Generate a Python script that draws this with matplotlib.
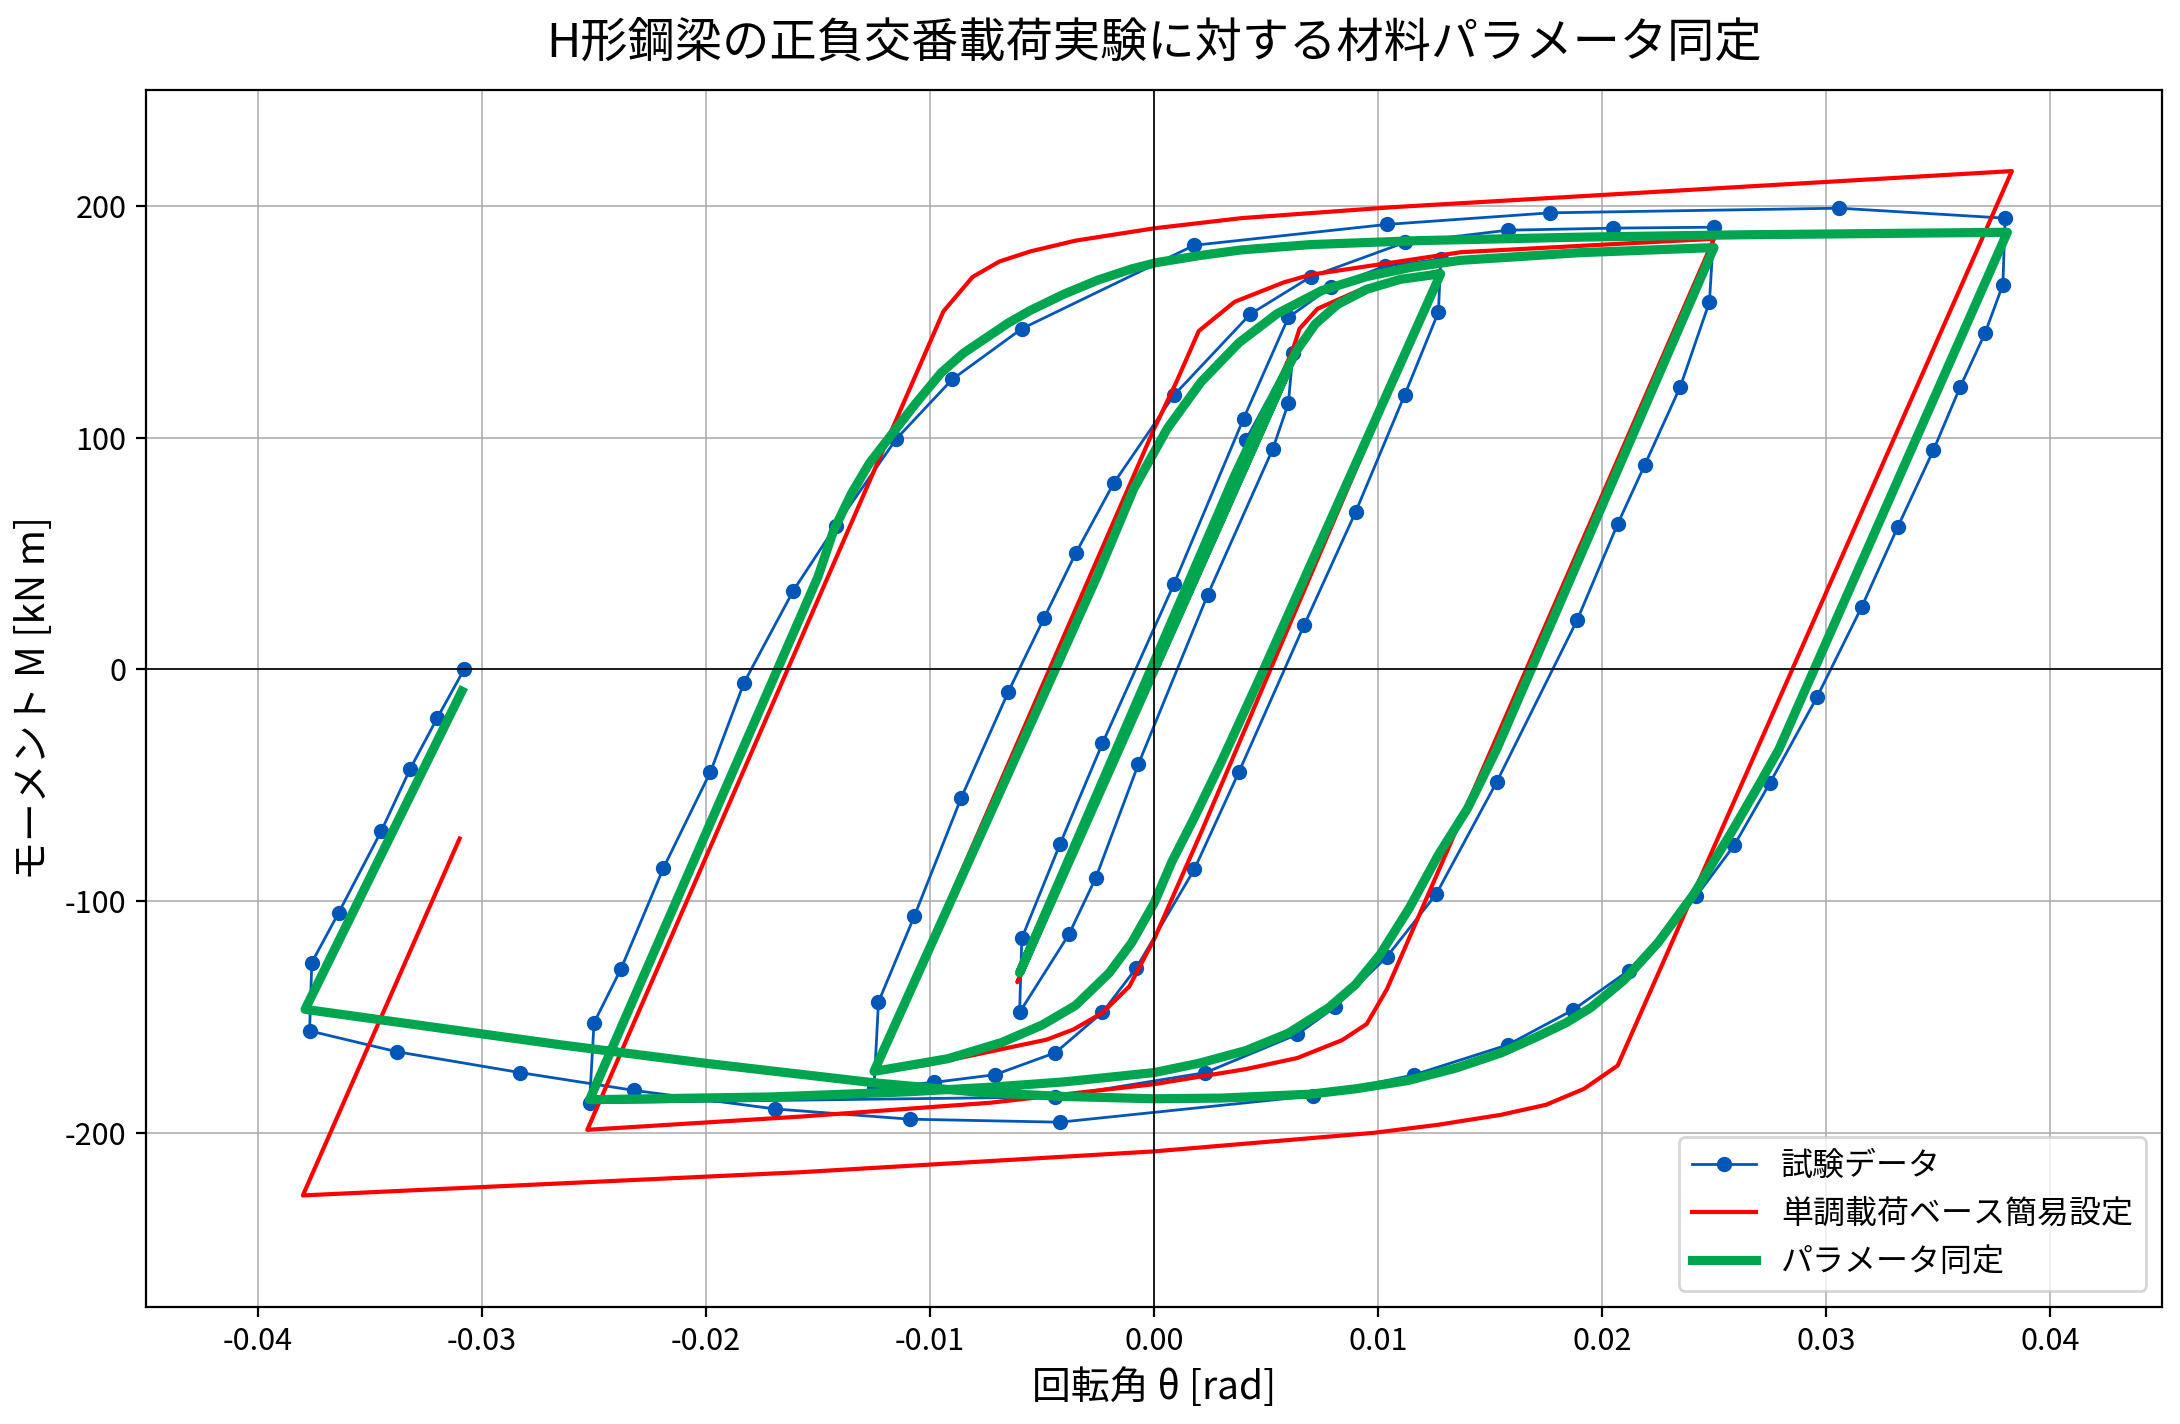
import matplotlib
matplotlib.use("Agg")
import matplotlib.pyplot as plt

plt.rcParams['font.family'] = ['Noto Sans CJK JP', 'DejaVu Sans']
plt.rcParams['axes.unicode_minus'] = False

# 試験データ (rotation [rad], moment [kN m]) in loading order
theta_test = [0.0041, 0.0062, 0.0060, 0.0053, 0.0024, -0.0007, -0.0026, -0.0038, -0.0060,
              -0.0059, -0.0042, -0.0023, 0.0009, 0.0040, 0.0060, 0.0079, 0.0103, 0.0128,
              0.0127, 0.0112, 0.0090, 0.0067, 0.0038, 0.0018, -0.0008, -0.0023, -0.0044,
              -0.0071, -0.0098, -0.0125,
              -0.0123, -0.0107, -0.0086, -0.0065, -0.0049, -0.0035, -0.0018, 0.0009, 0.0043,
              0.0070, 0.0112, 0.0158, 0.0205, 0.0250,
              0.0248, 0.0235, 0.0219, 0.0207, 0.0189, 0.0153, 0.0126, 0.0104, 0.0081, 0.0064,
              0.0023, -0.0044, -0.0252,
              -0.0250, -0.0238, -0.0219, -0.0198, -0.0183, -0.0161, -0.0142, -0.0115, -0.0090,
              -0.0059, 0.0018, 0.0104, 0.0177, 0.0306, 0.0380,
              0.0379, 0.0371, 0.0360, 0.0348, 0.0332, 0.0316, 0.0296, 0.0275, 0.0259, 0.0242,
              0.0212, 0.0187, 0.0158, 0.0116, 0.0071, -0.0042, -0.0109, -0.0169, -0.0232,
              -0.0283, -0.0338, -0.0377,
              -0.0376, -0.0364, -0.0345, -0.0332, -0.0320, -0.0308]
moment_test = [99.0, 136.3, 114.8, 95.0, 32.2, -41.0, -90.0, -114.4, -148.0,
               -116.0, -75.5, -31.9, 37.0, 108.2, 151.9, 165.0, 174.0, 177.0,
               154.2, 118.6, 67.9, 19.0, -44.1, -86.3, -129.0, -148.0, -165.4,
               -174.9, -178.2, -180.5,
               -143.5, -106.5, -55.3, -9.6, 22.3, 50.0, 80.3, 118.4, 153.3,
               169.4, 184.2, 189.5, 190.4, 190.8,
               158.6, 122.0, 88.0, 62.7, 21.4, -48.6, -97.0, -124.0, -145.6, -157.5,
               -174.0, -184.5, -187.0,
               -152.5, -129.3, -85.7, -44.2, -5.7, 34.0, 62.0, 99.5, 125.2,
               147.0, 183.0, 192.0, 197.0, 199.0, 194.7,
               166.0, 145.0, 122.0, 94.6, 61.3, 27.0, -12.0, -49.0, -76.0, -98.0,
               -130.0, -147.0, -162.0, -175.0, -184.0, -195.4, -194.1, -189.7, -181.7,
               -174.0, -165.0, -156.0,
               -126.5, -105.0, -69.8, -42.8, -21.0, 0.0]

# 単調載荷ベース簡易設定
theta_simple = [0.0, 0.0060, -0.0061,
                0.0062, 0.0065, 0.0073, 0.0095, 0.0128,
                0.0052, 0.0021, 0.0, -0.0011, -0.0023, -0.0036, -0.0048, -0.0101, -0.0125,
                0.0, 0.0010, 0.0020, 0.0036, 0.0058, 0.0070, 0.0137, 0.0250,
                0.0104, 0.0095, 0.0084, 0.0064, 0.0041, 0.0, -0.0073, -0.0158, -0.0253,
                -0.0094, -0.0081, -0.0069, -0.0055, -0.0035, 0.0, 0.0039, 0.0106, 0.0383,
                0.0207, 0.0192, 0.0175, 0.0155, 0.0127, 0.0098, 0.0, -0.0158, -0.0380,
                -0.0310]
moment_simple = [0.0, 133.0, -135.0,
                 138.0, 147.0, 155.6, 165.0, 172.0,
                 0.0, -70.5, -116.6, -136.8, -148.2, -155.4, -159.8, -170.6, -174.0,
                 103.7, 124.0, 146.0, 158.6, 167.0, 170.3, 180.0, 185.8,
                 -138.0, -153.0, -160.0, -167.7, -172.5, -179.0, -187.0, -193.0, -198.7,
                 154.5, 169.3, 176.0, 180.4, 185.0, 190.3, 194.7, 199.4, 215.0,
                 -171.0, -181.0, -187.9, -192.2, -196.5, -200.0, -208.0, -217.0, -227.0,
                 -73.0]

# パラメータ同定
theta_fit = [0.0, 0.0060, -0.0060,
             0.0036, 0.0048, 0.0057, 0.0064, 0.0072, 0.0082, 0.0095, 0.0110, 0.0128,
             0.0049, 0.0030, 0.0018, 0.0008, 0.0, -0.0010, -0.0020, -0.0035, -0.0050,
             -0.0068, -0.0092, -0.0125,
             -0.0040, -0.0025, -0.0009, 0.0006, 0.0021, 0.0038, 0.0055, 0.0075, 0.0095,
             0.0115, 0.0137, 0.0190, 0.0250,
             0.0153, 0.0140, 0.0127, 0.0114, 0.0101, 0.0090, 0.0078, 0.0060, 0.0041, 0.0020,
             0.0, -0.0040, -0.0073, -0.0110, -0.0171, -0.0252,
             -0.0150, -0.0143, -0.0135, -0.0127, -0.0119, -0.0107, -0.0095, -0.0085, -0.0075,
             -0.0065, -0.0055, -0.0040, -0.0025, -0.0010, 0.0001, 0.0020, 0.0039, 0.0070,
             0.0118, 0.0190, 0.0261, 0.0381,
             0.0279, 0.0270, 0.0258, 0.0241, 0.0225, 0.0210, 0.0195, 0.0184, 0.0170, 0.0155,
             0.0135, 0.0113, 0.0090, 0.0070, 0.0030, 0.0,
             -0.0040, -0.0077, -0.0125, -0.0200, -0.0265, -0.0379,
             -0.0309]
moment_fit = [0.0, 130.0, -131.0,
              83.6, 108.0, 125.0, 138.0, 149.0, 157.5, 164.0, 168.3, 170.7,
              0.0, -40.0, -64.0, -83.0, -101.0, -118.0, -131.0, -145.0, -153.5,
              -161.0, -168.0, -173.5,
              8.7, 41.0, 78.0, 104.0, 124.0, 141.0, 153.5, 163.5, 169.5,
              173.5, 176.5, 179.8, 182.0,
              -34.5, -60.0, -80.0, -103.0, -123.0, -136.0, -146.0, -157.0, -164.5, -170.0,
              -174.0, -178.0, -180.3, -182.3, -184.5, -185.7,
              40.0, 60.0, 76.0, 89.0, 99.0, 114.0, 128.0, 136.5, 143.0,
              149.5, 155.0, 162.0, 168.0, 172.8, 175.5, 178.5, 181.0, 183.3,
              185.0, 186.5, 187.5, 188.6,
              -34.5, -50.0, -70.0, -97.0, -118.0, -134.0, -146.0, -152.5, -159.0, -165.5,
              -172.0, -177.5, -181.0, -183.3, -185.0, -185.3,
              -184.3, -182.6, -178.4, -170.0, -162.0, -146.7,
              -9.4]

fig, ax = plt.subplots(figsize=(10.9, 7.12), dpi=200)
fig.subplots_adjust(left=0.067, right=0.9917, bottom=0.0824, top=0.9368)

ax.plot(theta_test, moment_test, '-o', color='#0057B7', lw=1.0, ms=4.5, label='試験データ')
ax.plot(theta_simple, moment_simple, color='red', lw=1.5, label='単調載荷ベース簡易設定')
ax.plot(theta_fit, moment_fit, color='#00A550', lw=3.3, label='パラメータ同定')

ax.axhline(0, color='k', lw=0.6)
ax.axvline(0, color='k', lw=0.6)
ax.grid(True, color='#b0b0b0', lw=0.6)

ax.set_xlim(-0.045, 0.045)
ax.set_ylim(-275, 250)
ax.set_xticks([-0.04, -0.03, -0.02, -0.01, 0.0, 0.01, 0.02, 0.03, 0.04])
ax.set_xticklabels(['-0.04', '-0.03', '-0.02', '-0.01', '0.00', '0.01', '0.02', '0.03', '0.04'])
ax.set_yticks([-200, -100, 0, 100, 200])
ax.tick_params(labelsize=11)

ax.set_xlabel('回転角 θ [rad]', fontsize=14)
ax.set_ylabel('モーメント M [kN m]', fontsize=14)
ax.set_title('H形鋼梁の正負交番載荷実験に対する材料パラメータ同定', fontsize=17, pad=12)
ax.legend(loc='lower right', fontsize=11.5)

fig.savefig('out.png', dpi=200)
